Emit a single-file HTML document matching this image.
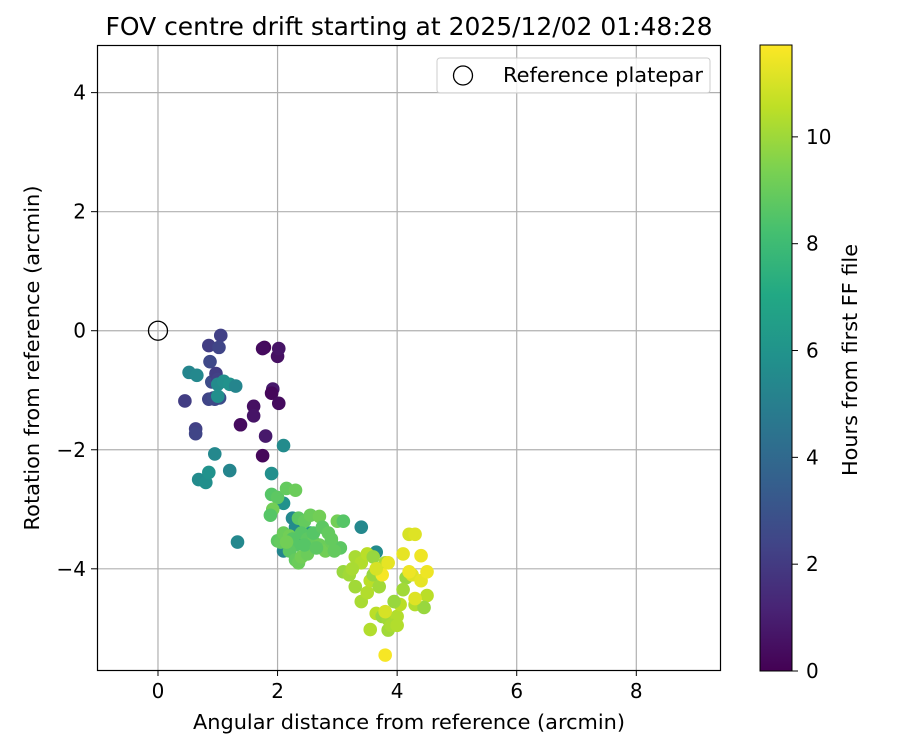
<!DOCTYPE html>
<html><head><meta charset="utf-8"><style>
body{margin:0;background:#fff;font-family:"DejaVu Sans","Liberation Sans",sans-serif;}
svg text{font-family:"DejaVu Sans","Liberation Sans",sans-serif;fill:#000;}
</style></head><body>
<svg id="chart" width="900" height="750" xmlns="http://www.w3.org/2000/svg">
<defs>
<linearGradient id="vir" x1="0" y1="1" x2="0" y2="0">
<stop offset="0" stop-color="#440154"/><stop offset="0.1" stop-color="#482475"/><stop offset="0.2" stop-color="#414487"/><stop offset="0.3" stop-color="#355f8d"/><stop offset="0.4" stop-color="#2a788e"/><stop offset="0.5" stop-color="#21918c"/><stop offset="0.6" stop-color="#22a884"/><stop offset="0.7" stop-color="#44bf70"/><stop offset="0.8" stop-color="#7ad151"/><stop offset="0.9" stop-color="#bddf26"/><stop offset="1" stop-color="#fde725"/>
</linearGradient>
</defs>
<g id="grid"></g>
<g id="points"></g>
<rect x="97.5" y="45.5" width="623" height="625" fill="none" stroke="#000" stroke-width="1.2"/>
<g id="ticks"></g>
<text x="409" y="35" font-size="25" text-anchor="middle" textLength="607" lengthAdjust="spacingAndGlyphs">FOV centre drift starting at 2025/12/02 01:48:28</text>
<text x="409" y="729" font-size="20.5" text-anchor="middle" textLength="432" lengthAdjust="spacingAndGlyphs">Angular distance from reference (arcmin)</text>
<text x="0" y="0" font-size="20.5" text-anchor="middle" textLength="345" lengthAdjust="spacingAndGlyphs" transform="translate(39,358) rotate(-90)">Rotation from reference (arcmin)</text>
<g>
<rect x="437" y="58" width="273" height="35" rx="3" fill="#fff" fill-opacity="0.8" stroke="#ccc"/>
<circle cx="463" cy="75.5" r="9.5" fill="none" stroke="#000" stroke-width="1.3"/>
<text x="503" y="82" font-size="20.5" textLength="200" lengthAdjust="spacingAndGlyphs">Reference platepar</text>
</g>
<rect x="760" y="45" width="32" height="626" fill="url(#vir)" stroke="#000" stroke-width="1"/>
<g id="cbticks"></g>
<text x="0" y="0" font-size="20.5" text-anchor="middle" textLength="232" lengthAdjust="spacingAndGlyphs" transform="translate(857,360) rotate(-90)">Hours from first FF file</text>
</svg>
<script>
const xTicks=[0,2,4,6,8];
const yTicks=[-4,-2,0,2,4];
const cbTicks=[0,2,4,6,8,10];
const groupHours=[0.5,2.4,5.6,8.9,10.2,11.3];
const groupX=[
[1.78,1.75,2.0,2.02,1.92,1.9,2.02,1.6,1.6,1.8,1.75,1.38],
[0.85,1.05,1.02,0.87,0.9,0.97,1.0,0.85,0.95,1.03,0.45,0.63,0.63,0.93],
[0.52,0.65,1.0,1.1,1.2,1.3,0.95,0.68,0.8,0.85,1.2,1.33,2.1,1.9,2.1,2.1,2.25,2.3,1.0,2.55,2.45,3.4,3.65],
[1.9,2.0,2.15,2.3,1.92,1.88,2.0,2.05,2.1,2.2,2.25,2.35,2.45,2.55,2.7,2.4,2.5,2.6,2.7,2.8,2.3,2.2,2.3,2.35,2.4,2.6,2.75,2.85,2.9,3.0,3.1,3.05,2.95,2.5,2.15,2.45,2.65,2.9],
[3.1,3.2,3.3,3.4,3.5,3.6,3.3,3.4,3.5,3.55,3.6,3.7,3.8,3.55,3.65,3.75,3.85,3.95,4.0,4.05,3.95,3.85,3.9,4.0,3.7,4.15,4.1,3.25,4.3,4.5,4.45],
[4.2,4.3,4.1,4.4,3.8,3.8,4.25,4.4,4.5,3.75,3.65,4.3,3.85,4.2]];
const groupY=[
[-0.28,-0.3,-0.43,-0.3,-0.98,-1.05,-1.22,-1.27,-1.43,-1.77,-2.1,-1.58],
[-0.25,-0.08,-0.28,-0.52,-0.86,-0.72,-0.82,-1.15,-1.15,-1.13,-1.18,-1.65,-1.73,-1.13],
[-0.7,-0.75,-0.9,-0.85,-0.9,-0.93,-2.07,-2.5,-2.55,-2.38,-2.35,-3.55,-1.93,-2.4,-2.9,-3.7,-3.15,-3.3,-1.1,-3.4,-3.55,-3.3,-3.72],
[-2.75,-2.8,-2.65,-2.68,-3.0,-3.1,-3.53,-3.55,-3.4,-3.45,-3.5,-3.15,-3.2,-3.1,-3.12,-3.4,-3.5,-3.55,-3.6,-3.7,-3.6,-3.7,-3.85,-3.9,-3.8,-3.4,-3.3,-3.4,-3.55,-3.2,-3.2,-3.65,-3.7,-3.75,-3.55,-3.6,-3.65,-3.5],
[-4.05,-4.1,-3.8,-3.9,-3.75,-3.8,-4.3,-4.55,-4.4,-4.2,-4.1,-4.3,-3.9,-5.02,-4.75,-4.8,-4.85,-4.9,-4.8,-4.6,-4.55,-5.03,-4.95,-4.95,-4.0,-4.15,-4.35,-4.0,-4.6,-4.45,-4.65],
[-3.42,-3.42,-3.75,-3.78,-5.45,-4.72,-4.1,-4.2,-4.05,-4.1,-4.0,-4.5,-3.9,-4.05]];
const X0=97,X1=720,Y0=45,Y1=670,xMin=-1.02,xMax=9.4,yMin=-5.7,yMax=4.8,hMax=11.72;
const sx=v=>X0+(v-xMin)/(xMax-xMin)*(X1-X0);
const sy=v=>Y1-(v-yMin)/(yMax-yMin)*(Y1-Y0);
const sc=v=>671-v/hMax*626;
const stops=["#440154","#482475","#414487","#355f8d","#2a788e","#21918c","#22a884","#44bf70","#7ad151","#bddf26","#fde725"];
function hex(c){return [1,3,5].map(i=>parseInt(c.substr(i,2),16));}
function viridis(t){t=Math.max(0,Math.min(1,t));const p=t*10,i=Math.min(9,Math.floor(p)),f=p-i;const a=hex(stops[i]),b=hex(stops[i+1]);return "rgb("+a.map((v,k)=>Math.round(v+(b[k]-v)*f)).join(",")+")";}
const NS="http://www.w3.org/2000/svg";
function mk(tag,attrs,parent){const e=document.createElementNS(NS,tag);for(const k in attrs)e.setAttribute(k,attrs[k]);parent.appendChild(e);return e;}
const grid=document.getElementById("grid"),ticks=document.getElementById("ticks"),pts=document.getElementById("points"),cbt=document.getElementById("cbticks");
xTicks.forEach(v=>{const x=sx(v);
const g=mk("line",{x1:x,x2:x,y1:Y0,y2:Y1,stroke:"#b0b0b0","stroke-width":1.2},grid);


mk("line",{x1:x,x2:x,y1:Y1,y2:Y1+6,stroke:"#000"},ticks);
const t=mk("text",{x:x,y:Y1+28,"font-size":20,"text-anchor":"middle"},ticks);t.textContent=v<0?"\u2212"+(-v):v;

});
yTicks.forEach(v=>{const y=sy(v);
const g=mk("line",{x1:X0,x2:X1,y1:y,y2:y,stroke:"#b0b0b0","stroke-width":1.2},grid);


mk("line",{x1:X0-6,x2:X0,y1:y,y2:y,stroke:"#000"},ticks);
const t=mk("text",{x:X0-11,y:y+7,"font-size":20,"text-anchor":"end"},ticks);t.textContent=v<0?"\u2212"+(-v):v;

});
cbTicks.forEach(v=>{const y=sc(v);
mk("line",{x1:792,x2:798,y1:y,y2:y,stroke:"#000"},cbt);
const t=mk("text",{x:806,y:y+7,"font-size":20},cbt);t.textContent=v;

});
groupX.forEach((xs,g)=>{xs.forEach((xv,i)=>{
const h=groupHours[g]+((i%5)-2)*0.15;
const c=mk("circle",{cx:sx(xv),cy:sy(groupY[g][i]),r:6.8,fill:viridis(h/hMax)},pts);

});});
const ref=mk("circle",{cx:sx(0),cy:sy(0),r:9.5,fill:"none",stroke:"#000","stroke-width":1.3},pts);


</script>
</body></html>
